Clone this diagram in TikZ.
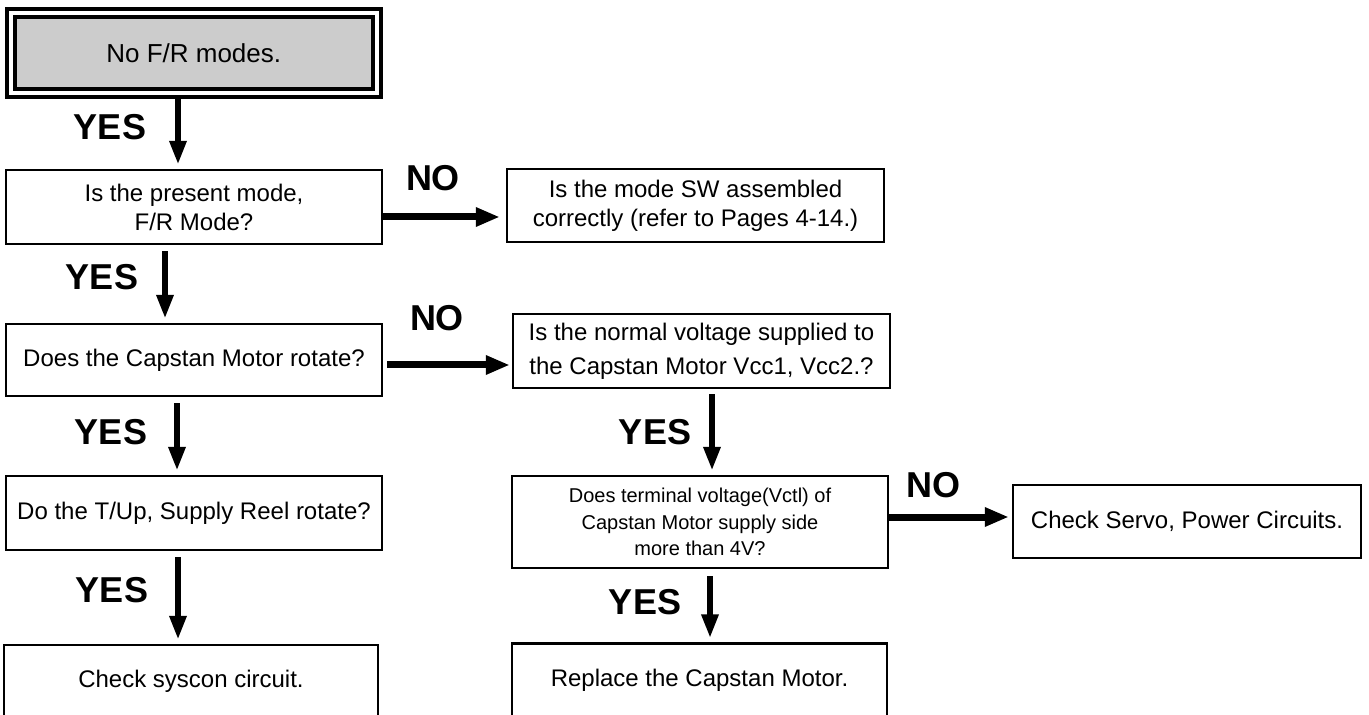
\documentclass[tikz,border=0pt]{standalone}
\usepackage{fontspec}
\setmainfont{Liberation Sans}
\usetikzlibrary{arrows.meta,fit}
\definecolor{fillgray}{HTML}{CCCCCC}
\begin{document}
\begin{tikzpicture}[x=0.5pt,y=-0.5pt,
  box/.style={draw, line width=1.2pt, inner sep=0pt, align=center, font=\fontsize{12}{14.5}\selectfont},
  lbl/.style={font=\fontsize{18}{18}\selectfont\bfseries, inner sep=0pt},
  varr/.style={line width=3pt, -{Triangle[length=12pt,width=8pt]}},
  harr/.style={line width=3.5pt, -{Triangle[length=12pt,width=9pt]}}
]
\useasboundingbox (0,0) rectangle (1369,715);
\clip (0,0) rectangle (1369,715);

% nodes
\node[box, fill=fillgray, line width=2pt, minimum width=178.75pt, minimum height=36pt,
      font=\fontsize{13}{15}\selectfont] (start) at (193.75,53) {No F/R modes.};
\node[draw, line width=2pt, inner sep=3pt, fit=(start)] (startframe) {};

\node[box, minimum width=188pt, minimum height=37pt] (q1) at (194,207) {Is the present mode,\\F/R Mode?};
\node[box, minimum width=188.5pt, minimum height=36.5pt] (a1) at (695.5,205.5) {Is the mode SW assembled\\correctly (refer to Pages 4-14.)};
\node[box, minimum width=188pt, minimum height=36pt] (q2) at (194,360) {Does the Capstan Motor rotate?};
\node[box, minimum width=188.5pt, minimum height=37pt, font=\fontsize{12}{17}\selectfont] (q3) at (701.5,351) {Is the normal voltage supplied to\\the Capstan Motor Vcc1, Vcc2.?};
\node[box, minimum width=188pt, minimum height=37pt] (q4) at (194,513) {Do the T/Up, Supply Reel rotate?};
\node[box, minimum width=188pt, minimum height=46pt, font=\fontsize{10}{13.25}\selectfont] (q5) at (700,522) {Does terminal voltage(Vctl) of\\Capstan Motor supply side\\more than 4V?};
\node[box, minimum width=174pt, minimum height=36.5pt] (r3) at (1187,521.5) {Check Servo, Power Circuits.};
\node[box, minimum width=187pt, minimum height=36pt] (r1) at (191,681) {Check syscon circuit.};
\node[box, minimum width=187.5pt, minimum height=37pt] (r2) at (699.5,680.5) {Replace the Capstan Motor.};

% alignment coordinates
\coordinate (x1) at (178,0);
\coordinate (x2) at (165,0);
\coordinate (x3) at (177,0);
\coordinate (x4) at (178,0);
\coordinate (xr1) at (712,0);
\coordinate (xr2) at (710,0);
\coordinate (y1) at (0,217);
\coordinate (y2) at (0,365);
\coordinate (y3) at (0,517);

% connectors
\draw[varr, shorten >=2pt] (startframe.south -| x1) -- (q1.north -| x1);
\draw[varr, shorten <=3pt, shorten >=2pt] (q1.south -| x2) -- (q2.north -| x2);
\draw[varr, shorten <=3pt, shorten >=2pt] (q2.south -| x3) -- (q4.north -| x3);
\draw[varr, shorten <=3pt, shorten >=2pt] (q4.south -| x4) -- (r1.north -| x4);
\draw[varr, shorten <=2.5pt, shorten >=2pt] (q3.south -| xr1) -- (q5.north -| xr1);
\draw[varr, shorten <=3.5pt, shorten >=2pt] (q5.south -| xr2) -- (r2.north -| xr2);
\draw[harr, shorten >=3pt] (q1.east |- y1) -- (a1.west |- y1);
\draw[harr, shorten <=2pt, shorten >=1pt] (q2.east |- y2) -- (q3.west |- y2);
\draw[harr, shorten >=1.5pt] (q5.east |- y3) -- (r3.west |- y3);

% labels
\node[lbl] (yes1) at (110,127) {YES};
\node[lbl] (yes2) at (102,277) {YES};
\node[lbl] (yes3) at (111,432) {YES};
\node[lbl] (yes4) at (112,590) {YES};
\node[lbl] (yes5) at (655,432) {YES};
\node[lbl] (yes6) at (645,602) {YES};
\node[lbl] (no1) at (433,178) {NO};
\node[lbl] (no2) at (437,318) {NO};
\node[lbl] (no3) at (933,485) {NO};
\end{tikzpicture}
\end{document}
